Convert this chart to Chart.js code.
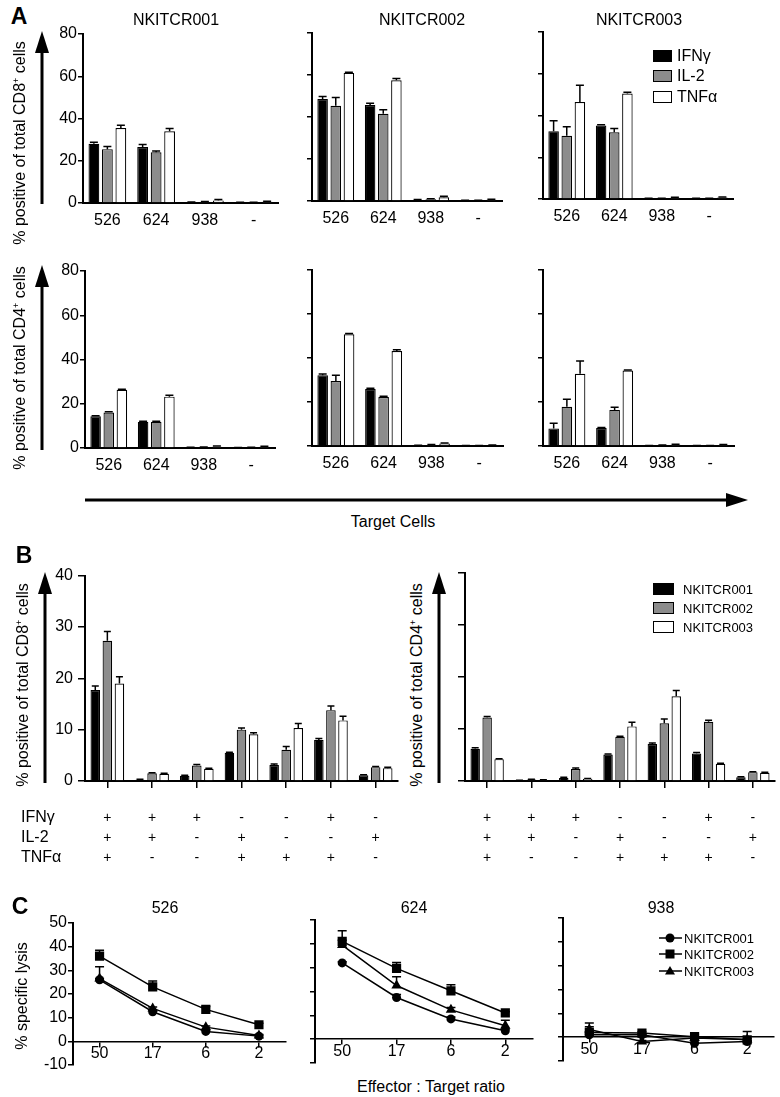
<!DOCTYPE html>
<html>
<head>
<meta charset="utf-8">
<title>NKITCR cytokines and lysis</title>
<script src="https://cdn.jsdelivr.net/npm/chart.js@4.4.1/dist/chart.umd.min.js"></script>
<style>
  body { margin: 0; background: #fff; }
  #page { position: relative; width: 780px; height: 1097px; overflow: hidden; background: #fff;
          font-family: "Liberation Sans", Arial, Helvetica, sans-serif; color: #000; }
  #page canvas { position: absolute; }
  .lbl { position: absolute; white-space: nowrap; transform: translate(-50%, -50%); line-height: 1; }
  .lft { position: absolute; white-space: nowrap; transform: translateY(-50%); line-height: 1; }
  .rot { transform: translate(-50%, -50%) rotate(-90deg); }
  .panel { font-weight: bold; }
  .box { position: absolute; border: 1.5px solid #000; box-sizing: border-box; }
  sup { font-size: 9px; vertical-align: 6px; line-height: 0; }
  #deco { position: absolute; left: 0; top: 0; }
</style>
</head>
<body>
<div id="page">
  <svg id="deco" width="780" height="1097">
    <g stroke="#000" stroke-width="3">
      <line x1="42" y1="204" x2="42" y2="50"/>
      <line x1="42" y1="450" x2="42" y2="285"/>
      <line x1="85" y1="500" x2="728" y2="500"/>
      <line x1="45" y1="783" x2="45" y2="592"/>
      <line x1="439" y1="783" x2="439" y2="592"/>
    </g>
    <g fill="#000">
      <polygon points="35,53 49,53 42,31"/>
      <polygon points="35,287 49,287 42,265"/>
      <polygon points="726,493 726,507 748,500"/>
      <polygon points="38,594 52,594 45,572"/>
      <polygon points="432,594 446,594 439,572"/>
    </g>
  </svg>
</div>
<script>
// ---------- data ----------
// panel A: % cytokine positive cells per target line
const targets = ['526', '624', '938', '-'];
const cytokines = ['IFNγ', 'IL-2', 'TNFα'];
const clones = ['NKITCR001', 'NKITCR002', 'NKITCR003'];

// one inner array per clone (001, 002, 003), in target order
const cd8Ifng = [[28.0, 26.5, 0.3, 0.2], [48.6, 45.7, 0.5, 0.2], [32.5, 35.2, 0.2, 0.2]];
const cd8Il2  = [[25.5, 24.0, 0.5, 0.2], [45.3, 41.5, 0.8, 0.3], [30.3, 32.0, 0.3, 0.2]];
const cd8Tnfa = [[35.5, 34.0, 1.2, 0.6], [61.0, 57.5, 1.8, 0.6], [46.5, 50.5, 0.6, 0.7]];
const cd8IfngErr = [[0.8, 1.2, 0.2, 0.1], [1.2, 0.8, 0.2, 0.1], [5.0, 0.4, 0.1, 0.1]];
const cd8Il2Err  = [[1.3, 0.6, 0.2, 0.1], [4.0, 2.0, 0.3, 0.1], [4.3, 1.8, 0.1, 0.1]];
const cd8TnfaErr = [[1.3, 1.3, 0.5, 0.2], [0.3, 0.8, 0.5, 0.2], [8.0, 0.6, 0.2, 0.2]];

const cd4Ifng = [[14.3, 11.8, 0.2, 0.1], [32.2, 25.9, 0.2, 0.1], [8.0, 8.2, 0.1, 0.1]];
const cd4Il2  = [[16.0, 11.8, 0.3, 0.2], [29.5, 22.3, 0.5, 0.1], [17.8, 16.4, 0.3, 0.1]];
const cd4Tnfa = [[26.3, 23.2, 0.6, 0.6], [50.8, 43.2, 1.1, 0.3], [32.8, 34.3, 0.6, 0.5]];
const cd4IfngErr = [[0.3, 0.3, 0.1, 0.1], [0.5, 0.4, 0.1, 0.1], [2.3, 0.2, 0.1, 0.1]];
const cd4Il2Err  = [[0.4, 0.3, 0.1, 0.1], [2.7, 0.3, 0.2, 0.1], [3.5, 1.2, 0.1, 0.1]];
const cd4TnfaErr = [[0.3, 0.6, 0.3, 0.2], [0.3, 0.5, 0.3, 0.1], [5.8, 0.3, 0.2, 0.2]];

// panel B: polyfunctionality, one column per cytokine combination
const ifngRow = ['+', '+', '+', '-', '-', '+', '-'];
const il2Row  = ['+', '+', '-', '+', '-', '-', '+'];
const tnfaRow = ['+', '-', '-', '+', '+', '+', '-'];
const combos = ['1', '2', '3', '4', '5', '6', '7'];

const bCd8 = [[17.7, 0.25, 1.0, 5.5, 3.1, 8.0, 1.1],
              [27.3, 1.5, 3.0, 10.0, 6.1, 13.8, 2.7],
              [19.0, 1.4, 2.4, 9.1, 10.3, 11.8, 2.5]];
const bCd8Err = [[0.8, 0.1, 0.1, 0.1, 0.2, 0.3, 0.1],
                 [1.8, 0.1, 0.2, 0.3, 0.6, 0.8, 0.1],
                 [1.3, 0.1, 0.1, 0.3, 0.9, 0.8, 0.2]];
const bCd4 = [[6.2, 0.1, 0.6, 5.1, 7.1, 5.3, 0.7],
              [12.2, 0.3, 2.3, 8.5, 11.1, 11.4, 1.7],
              [4.2, 0.2, 0.45, 10.5, 16.3, 3.3, 1.6]];
const bCd4Err = [[0.2, 0.05, 0.1, 0.1, 0.2, 0.2, 0.1],
                 [0.2, 0.05, 0.2, 0.1, 0.8, 0.3, 0.1],
                 [0.1, 0.05, 0.05, 0.8, 1.1, 0.1, 0.1]];

// panel C: % specific lysis vs E:T ratio
const ratios = ['50', '17', '6', '2'];
const lysis526 = [[26.0, 12.5, 4.2, 2.2], [36.0, 23.0, 13.5, 7.0], [26.5, 13.9, 6.0, 2.5]];
const lysis526Err = [[0.5, 0.8, 0.6, 0.4], [2.5, 2.5, 1.2, 0.6], [5.0, 0.6, 0.5, 0.4]];
const lysis624 = [[32.0, 17.5, 8.5, 3.5], [41.0, 29.7, 20.3, 11.0], [39.5, 22.5, 12.3, 5.6]];
const lysis624Err = [[0.5, 1.2, 0.8, 0.8], [4.5, 2.5, 2.5, 0.5], [2.0, 3.7, 1.0, 2.3]];
const lysis938 = [[1.0, 1.0, -2.5, -1.8], [2.0, 1.7, 0.2, -1.1], [3.2, -1.8, -0.4, -1.0]];
const lysis938Err = [[0.4, 0.3, 0.3, 0.3], [3.9, 0.6, 0.8, 3.5], [1.2, 0.4, 0.4, 0.4]];

// ---------- helpers ----------
const FONT = '"Liberation Sans", Arial, Helvetica, sans-serif';
Chart.defaults.font.family = FONT;
Chart.defaults.color = '#000';
const fills = ['#000000', '#8c8c8c', '#ffffff'];
const page = document.getElementById('page');

const errorBars = {
  id: 'errorBars',
  afterDatasetsDraw(chart) {
    const ctx = chart.ctx, ys = chart.scales.y;
    const cap = chart.options.plugins.errorBars.cap;
    chart.data.datasets.forEach((ds, i) => {
      if (!ds.errors) return;
      chart.getDatasetMeta(i).data.forEach((el, j) => {
        const e = ds.errors[j];
        if (!e) return;
        const yTop = ys.getPixelForValue(ds.data[j] + e);
        ctx.save();
        ctx.strokeStyle = '#000';
        ctx.lineWidth = 1.5;
        ctx.beginPath();
        ctx.moveTo(el.x, el.y);
        ctx.lineTo(el.x, yTop);
        ctx.moveTo(el.x - cap, yTop);
        ctx.lineTo(el.x + cap, yTop);
        ctx.stroke();
        ctx.restore();
      });
    });
  }
};

// +/- table under the panel B charts
const comboTable = {
  id: 'comboTable',
  afterDraw(chart, args, opts) {
    if (!opts.rows) return;
    const ctx = chart.ctx, xs = chart.scales.x, bottom = chart.chartArea.bottom;
    ctx.save();
    ctx.fillStyle = '#000';
    ctx.textBaseline = 'middle';
    opts.rows.forEach((row, r) => {
      const y = bottom + opts.offsets[r];
      ctx.font = '14px ' + FONT;
      ctx.textAlign = 'center';
      row.forEach((s, i) => ctx.fillText(s, xs.getPixelForValue(i), y));
      if (opts.names) {
        ctx.font = '16px ' + FONT;
        ctx.textAlign = 'left';
        ctx.fillText(opts.names[r], opts.nameX, y);
      }
    });
    ctx.restore();
  }
};

function addCanvas(area, yW, xH, pad) {
  const c = document.createElement('canvas');
  c.width = area.r - area.l + yW + pad.r;
  c.height = area.b - area.t + pad.t + xH + pad.b;
  c.style.left = (area.l - yW) + 'px';
  c.style.top = (area.t - pad.t) + 'px';
  page.appendChild(c);
  return c;
}

function yAxis(min, max, step, show, yW, tickLen, gap) {
  return {
    min: min, max: max,
    ticks: { stepSize: step, display: show, font: { size: 16 }, padding: gap },
    grid: { drawOnChartArea: false, color: '#000', lineWidth: 1.5, tickLength: tickLen },
    border: { color: '#000', width: 2 },
    afterFit(s) { s.width = yW; }
  };
}

function label(html, x, y, size, cls) {
  const d = document.createElement('div');
  d.className = cls || 'lbl';
  d.style.left = x + 'px';
  d.style.top = y + 'px';
  d.style.fontSize = size + 'px';
  d.innerHTML = html;
  page.appendChild(d);
  return d;
}

function box(x, y, w, h, color) {
  const d = document.createElement('div');
  d.className = 'box';
  d.style.left = x + 'px';
  d.style.top = (y - h / 2) + 'px';
  d.style.width = w + 'px';
  d.style.height = h + 'px';
  d.style.background = color;
  page.appendChild(d);
}

// ---------- panel A ----------
function cytokineChart(area, k, rows, errs, showY) {
  const yW = showY ? 40 : 10, xH = 28;
  const pad = { t: 12, r: 4, b: 0 };
  const cv = addCanvas(area, yW, xH, pad);
  new Chart(cv, {
    type: 'bar',
    data: {
      labels: targets,
      datasets: cytokines.map((name, i) => ({
        label: name, data: rows[i][k], errors: errs[i][k],
        backgroundColor: fills[i], borderColor: '#000', borderWidth: 1.2,
        categoryPercentage: 0.83, barPercentage: 0.8
      }))
    },
    options: {
      responsive: false, animation: false,
      layout: { padding: { top: pad.t, right: pad.r, bottom: pad.b, left: 0 } },
      plugins: { legend: { display: false }, tooltip: { enabled: false }, errorBars: { cap: 4 } },
      scales: {
        x: {
          grid: { display: false },
          border: { color: '#000', width: 2 },
          ticks: { font: { size: 16 }, padding: 0, maxRotation: 0, autoSkip: false },
          afterFit(s) { s.height = xH; }
        },
        y: yAxis(0, 80, 20, showY, yW, 5, 1)
      }
    },
    plugins: [errorBars]
  });
}

const cd8Sets = [cd8Ifng, cd8Il2, cd8Tnfa], cd8Errs = [cd8IfngErr, cd8Il2Err, cd8TnfaErr];
const cd4Sets = [cd4Ifng, cd4Il2, cd4Tnfa], cd4Errs = [cd4IfngErr, cd4Il2Err, cd4TnfaErr];
cytokineChart({ l: 83, r: 278, t: 34, b: 203 }, 0, cd8Sets, cd8Errs, true);
cytokineChart({ l: 312, r: 502, t: 33, b: 201 }, 1, cd8Sets, cd8Errs, false);
cytokineChart({ l: 543, r: 733, t: 32, b: 199 }, 2, cd8Sets, cd8Errs, false);
cytokineChart({ l: 85, r: 275, t: 271, b: 448 }, 0, cd4Sets, cd4Errs, true);
cytokineChart({ l: 312, r: 503, t: 270, b: 446 }, 1, cd4Sets, cd4Errs, false);
cytokineChart({ l: 543, r: 734, t: 270, b: 446 }, 2, cd4Sets, cd4Errs, false);

// ---------- panel B ----------
function comboChart(area, sets, errs, showY) {
  const yW = showY ? 85 : 15, xH = 90;
  const pad = { t: 12, r: 4, b: 0 };
  const cv = addCanvas(area, yW, xH, pad);
  new Chart(cv, {
    type: 'bar',
    data: {
      labels: combos,
      datasets: clones.map((name, i) => ({
        label: name, data: sets[i], errors: errs[i],
        backgroundColor: fills[i], borderColor: '#000', borderWidth: 1.2,
        categoryPercentage: 0.81, barPercentage: 0.79
      }))
    },
    options: {
      responsive: false, animation: false,
      layout: { padding: { top: pad.t, right: pad.r, bottom: pad.b, left: 0 } },
      plugins: {
        legend: { display: false }, tooltip: { enabled: false }, errorBars: { cap: 3.5 },
        comboTable: {
          rows: [ifngRow, il2Row, tnfaRow], offsets: [37, 57, 77],
          names: showY ? cytokines : null, nameX: 21
        }
      },
      scales: {
        x: {
          grid: { drawOnChartArea: false, offset: false, color: '#000', lineWidth: 1.5, tickLength: 7 },
          border: { color: '#000', width: 2 },
          ticks: { display: false },
          afterFit(s) { s.height = xH; }
        },
        y: yAxis(0, 40, 10, showY, yW, 7, 5)
      }
    },
    plugins: [errorBars, comboTable]
  });
}
comboChart({ l: 85, r: 398, t: 573, b: 781 }, bCd8, bCd8Err, true);
comboChart({ l: 465, r: 775, t: 573, b: 781 }, bCd4, bCd4Err, false);

// ---------- panel C ----------
const markers = ['circle', 'rect', 'triangle'];
const markerSize = [4.5, 6.5, 6];

function lysisChart(area, sets, errs, showY) {
  const yW = showY ? 40 : 10;
  const pad = { t: 12, r: area.r >= 780 ? 0 : 4, b: 12 };
  const cv = addCanvas(area, yW, 0, pad);
  new Chart(cv, {
    type: 'line',
    data: {
      labels: ratios,
      datasets: clones.map((name, i) => ({
        label: name, data: sets[i], errors: errs[i],
        borderColor: '#000', borderWidth: 1.5, tension: 0, fill: false,
        pointStyle: markers[i], pointRadius: markerSize[i],
        pointBackgroundColor: '#000', pointBorderColor: '#000', pointBorderWidth: 0
      }))
    },
    options: {
      responsive: false, animation: false,
      layout: { padding: { top: pad.t, right: pad.r, bottom: pad.b, left: 0 } },
      plugins: { legend: { display: false }, tooltip: { enabled: false }, errorBars: { cap: 4.5 } },
      scales: {
        x: {
          type: 'category', offset: true, position: { y: 0 },
          grid: { drawOnChartArea: false, offset: false, color: '#000', lineWidth: 1.5, tickLength: 5 },
          border: { color: '#000', width: 1.5 },
          ticks: { font: { size: 16 }, padding: -2, maxRotation: 0, autoSkip: false }
        },
        y: yAxis(-10, 50, 10, showY, yW, 5, 1)
      }
    },
    plugins: [errorBars]
  });
}
lysisChart({ l: 73, r: 288, t: 923, b: 1065 }, lysis526, lysis526Err, true);
lysisChart({ l: 315, r: 535, t: 920, b: 1063 }, lysis624, lysis624Err, false);
lysisChart({ l: 563, r: 780, t: 918, b: 1061 }, lysis938, lysis938Err, false);

// ---------- text, legends ----------
label('A', 19, 16, 23, 'lbl panel');
label('B', 24, 555, 23, 'lbl panel');
label('C', 20, 906, 23, 'lbl panel');

[176, 422, 639].forEach((x, i) => label(clones[i], x, 20, 16));
label('% positive of total CD8<sup>+</sup> cells', 20, 143, 16, 'lbl rot');
label('% positive of total CD4<sup>+</sup> cells', 20, 368, 16, 'lbl rot');
label('Target Cells', 393, 522, 16);

label('% positive of total CD8<sup>+</sup> cells', 23, 685, 16, 'lbl rot');
label('% positive of total CD4<sup>+</sup> cells', 417, 685, 16, 'lbl rot');

[165, 414, 661].forEach((x, i) => label(targets[i], x, 908, 16));
label('% specific lysis', 22, 996, 16, 'lbl rot');
label('Effector : Target ratio', 431, 1087, 16);

// legend A
[56, 76, 97].forEach((y, i) => {
  box(653, y, 19, 12, fills[i]);
  label(cytokines[i], 677, y, 16, 'lft');
});
// legend B
[589, 608, 627].forEach((y, i) => {
  box(653, y, 21, 12, fills[i]);
  label(clones[i], 683, y, 13, 'lft');
});
// legend C
const svg = document.getElementById('deco');
const NS = 'http://www.w3.org/2000/svg';
[938, 954, 971].forEach((y, i) => {
  const ln = document.createElementNS(NS, 'line');
  ln.setAttribute('x1', 659); ln.setAttribute('x2', 682);
  ln.setAttribute('y1', y); ln.setAttribute('y2', y);
  ln.setAttribute('stroke', '#000'); ln.setAttribute('stroke-width', '1.5');
  svg.appendChild(ln);
  let m;
  if (i === 0) {
    m = document.createElementNS(NS, 'circle');
    m.setAttribute('cx', 670); m.setAttribute('cy', y); m.setAttribute('r', 4.5);
  } else if (i === 1) {
    m = document.createElementNS(NS, 'rect');
    m.setAttribute('x', 665.5); m.setAttribute('y', y - 4.5);
    m.setAttribute('width', 9); m.setAttribute('height', 9);
  } else {
    m = document.createElementNS(NS, 'polygon');
    m.setAttribute('points', (670 - 5) + ',' + (y + 3.5) + ' ' + (670 + 5) + ',' + (y + 3.5) + ' 670,' + (y - 5));
  }
  m.setAttribute('fill', '#000');
  svg.appendChild(m);
  label(clones[i], 684, y, 13, 'lft');
});
</script>
</body>
</html>
